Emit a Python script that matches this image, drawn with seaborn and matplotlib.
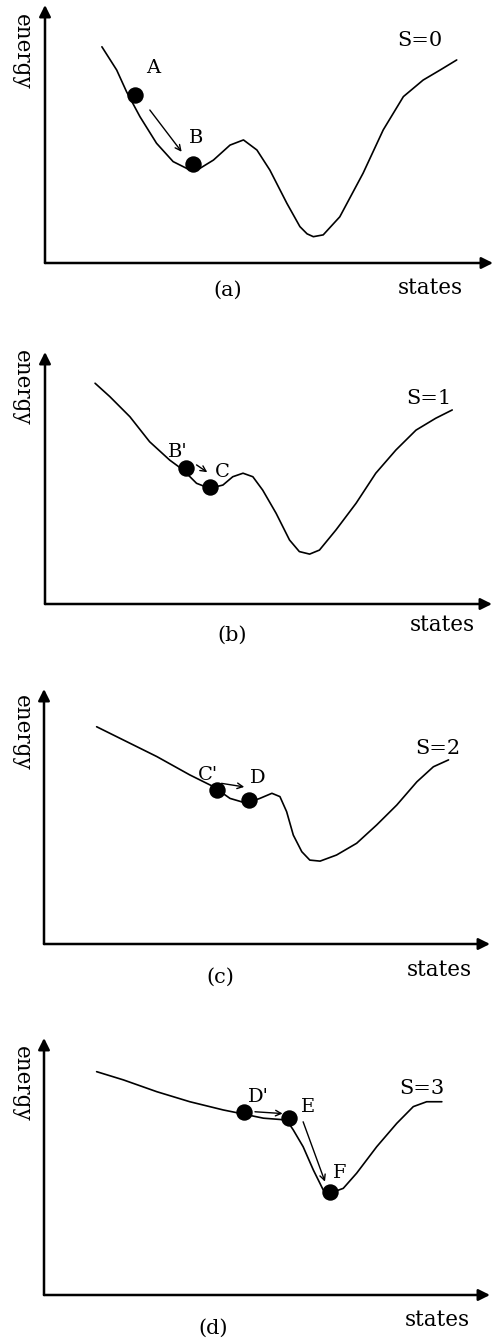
import matplotlib
matplotlib.use("Agg")
import matplotlib.pyplot as plt
import seaborn as sns
import pandas as pd

sns.set_style("white")
plt.rcParams['font.family'] = ['DejaVu Serif', 'DejaVu Sans']
plt.rcParams['text.color'] = 'black'

# ---------------- data (normalised states / energy units, 0-100) -------------
a_x = [12.7, 16.0, 18.2, 21.2, 24.9, 28.6, 32.4, 34.6, 37.6, 41.3, 44.3, 47.3, 50.2,
       54.0, 56.9, 58.5, 59.9, 62.1, 65.8, 71.0, 75.5, 80.0, 84.4, 88.2, 91.9]
a_y = [83.8, 74.8, 66.4, 56.7, 46.4, 39.3, 36.0, 36.7, 39.9, 45.7, 47.7, 43.8, 36.0,
       23.1, 14.1, 11.3, 10.2, 10.9, 17.9, 34.8, 51.6, 64.5, 70.9, 74.8, 78.7]

b_x = [11.2, 14.5, 19.0, 23.4, 27.9, 30.9, 33.9, 36.8, 39.8, 42.0, 44.3, 46.5, 48.7,
       51.7, 54.7, 56.9, 59.2, 61.4, 65.1, 69.6, 74.0, 78.5, 83.0, 87.4, 91.1]
b_y = [87.6, 82.3, 74.3, 64.4, 57.1, 53.2, 47.9, 45.9, 47.2, 50.5, 51.9, 50.5, 45.2,
       36.0, 25.4, 20.8, 19.8, 21.4, 29.4, 40.0, 51.9, 61.1, 69.0, 73.7, 77.0]

c_x = [11.8, 17.8, 25.3, 32.7, 38.0, 41.7, 45.4, 48.4, 51.1, 52.9, 54.4, 55.9, 57.8,
       59.6, 61.9, 65.6, 70.1, 74.6, 79.1, 83.6, 87.3, 90.7]
c_y = [85.2, 80.0, 73.5, 66.3, 61.7, 57.1, 55.2, 57.1, 59.1, 57.8, 51.9, 42.7, 36.2,
       32.9, 32.5, 34.9, 39.5, 46.7, 54.5, 63.6, 69.5, 72.2]

d_x = [11.8, 17.8, 25.3, 32.7, 40.2, 43.9, 49.2, 54.4, 55.9, 58.1, 60.4, 62.6, 64.1,
       67.1, 70.1, 74.6, 79.1, 82.8, 85.8, 89.2]
d_y = [86.9, 83.7, 79.1, 75.2, 72.0, 70.7, 68.8, 68.1, 64.2, 57.7, 48.6, 40.9, 39.6,
       41.5, 47.4, 57.7, 66.8, 73.3, 75.2, 75.2]

# ball positions
a_dot_x = [20.1, 33.1]; a_dot_y = [65.1, 38.4]
b_dot_x = [31.5, 37.0]; b_dot_y = [53.8, 46.5]
c_dot_x = [38.7, 46.0]; c_dot_y = [60.4, 56.5]
d_dot_x = [44.8, 55.0, 64.1]; d_dot_y = [71.3, 68.8, 40.2]

# point labels
a_lab = ["A", "B"];       a_lab_x = [24.1, 33.7];       a_lab_y = [75.6, 48.4]
b_lab = ["B'", "C"];      b_lab_x = [29.8, 39.6];       b_lab_y = [60.4, 52.5]
c_lab = ["C'", "D"];      c_lab_x = [36.8, 47.9];       c_lab_y = [66.3, 65.0]
d_lab = ["D'", "E", "F"]; d_lab_x = [48.0, 59.2, 66.3]; d_lab_y = [77.2, 73.3, 47.4]

# move arrows (start -> end)
a_arr = [((23.4, 59.3), (30.5, 43.1))]
b_arr = [((33.9, 55.2), (36.3, 52.3))]
c_arr = [((39.8, 63.0), (44.9, 61.6))]
d_arr = [((47.3, 71.3), (53.5, 70.6)), ((58.1, 67.4), (63.0, 44.1))]

s_labels = ["S=0", "S=1", "S=2", "S=3"]
s_pos = [(83.7, 86.4), (85.9, 81.6), (88.4, 76.7), (84.7, 80.4)]
panel_labels = ["(a)", "(b)", "(c)", "(d)"]
panel_pos = [(40.8, -10.5), (41.8, -12.3), (39.5, -13.0), (37.9, -12.8)]
states_pos = [(86.0, -9.7), (88.8, -8.3), (88.6, -10.2), (88.1, -9.7)]
energy_pos = [(-5.1, 81.8), (-5.1, 85.7), (-4.9, 82.7), (-4.9, 82.1)]

# ---------------- layout (pixel boxes of each panel: origin x, origin y, w, h)
W, H = 497, 1341
boxes = [(45, 263, 448, 258), (45, 604, 447, 252), (44, 944, 446, 255), (44, 1295, 446, 257)]

fig = plt.figure(figsize=(W / 100, H / 100), dpi=100)

curves = [(a_x, a_y), (b_x, b_y), (c_x, c_y), (d_x, d_y)]
dots = [(a_dot_x, a_dot_y), (b_dot_x, b_dot_y), (c_dot_x, c_dot_y), (d_dot_x, d_dot_y)]
labs = [(a_lab, a_lab_x, a_lab_y), (b_lab, b_lab_x, b_lab_y),
        (c_lab, c_lab_x, c_lab_y), (d_lab, d_lab_x, d_lab_y)]
arrs = [a_arr, b_arr, c_arr, d_arr]

for i, (ox, oy, w, h) in enumerate(boxes):
    ax = fig.add_axes([ox / W, 1 - oy / H, w / W, h / H])
    ax.set_xlim(0, 100)
    ax.set_ylim(0, 100)
    for sp in ax.spines.values():
        sp.set_visible(False)
    ax.set_xticks([])
    ax.set_yticks([])
    ax.patch.set_alpha(0)

    # axes with arrow heads
    for tip in [(1, 0), (0, 1)]:
        ax.annotate("", xy=tip, xytext=(0, 0), xycoords="axes fraction",
                    arrowprops=dict(arrowstyle="-|>", lw=1.8, color="black",
                                    mutation_scale=17, shrinkA=0, shrinkB=0),
                    annotation_clip=False)

    cx, cy = curves[i]
    df = pd.DataFrame({"state": cx, "energy": cy})
    sns.lineplot(data=df, x="state", y="energy", ax=ax, color="black", lw=1.2,
                 sort=False, legend=False)

    dx, dy = dots[i]
    ddf = pd.DataFrame({"state": dx, "energy": dy})
    sns.scatterplot(data=ddf, x="state", y="energy", ax=ax, color="black", s=140,
                    edgecolor="black", linewidth=0, zorder=5, legend=False)

    for (st, en) in arrs[i]:
        ax.annotate("", xy=en, xytext=st,
                    arrowprops=dict(arrowstyle="->", lw=1.0, color="black",
                                    mutation_scale=10, shrinkA=0, shrinkB=0))

    names, lx, ly = labs[i]
    for n, x, y in zip(names, lx, ly):
        ax.text(x, y, n, fontsize=14, ha="center", va="center", color="black")

    ax.text(*s_pos[i], s_labels[i], fontsize=15, ha="center", va="center", color="black")
    ax.text(*panel_pos[i], panel_labels[i], fontsize=15, ha="center", va="center",
            clip_on=False, color="black")
    ax.text(*states_pos[i], "states", fontsize=15.5, ha="center", va="center",
            clip_on=False, color="black")
    ax.text(*energy_pos[i], "energy", fontsize=15.5, ha="center", va="center",
            rotation=-90, clip_on=False, color="black")
    ax.set_xlabel("")
    ax.set_ylabel("")

fig.savefig("out.png", dpi=100, facecolor="white")
